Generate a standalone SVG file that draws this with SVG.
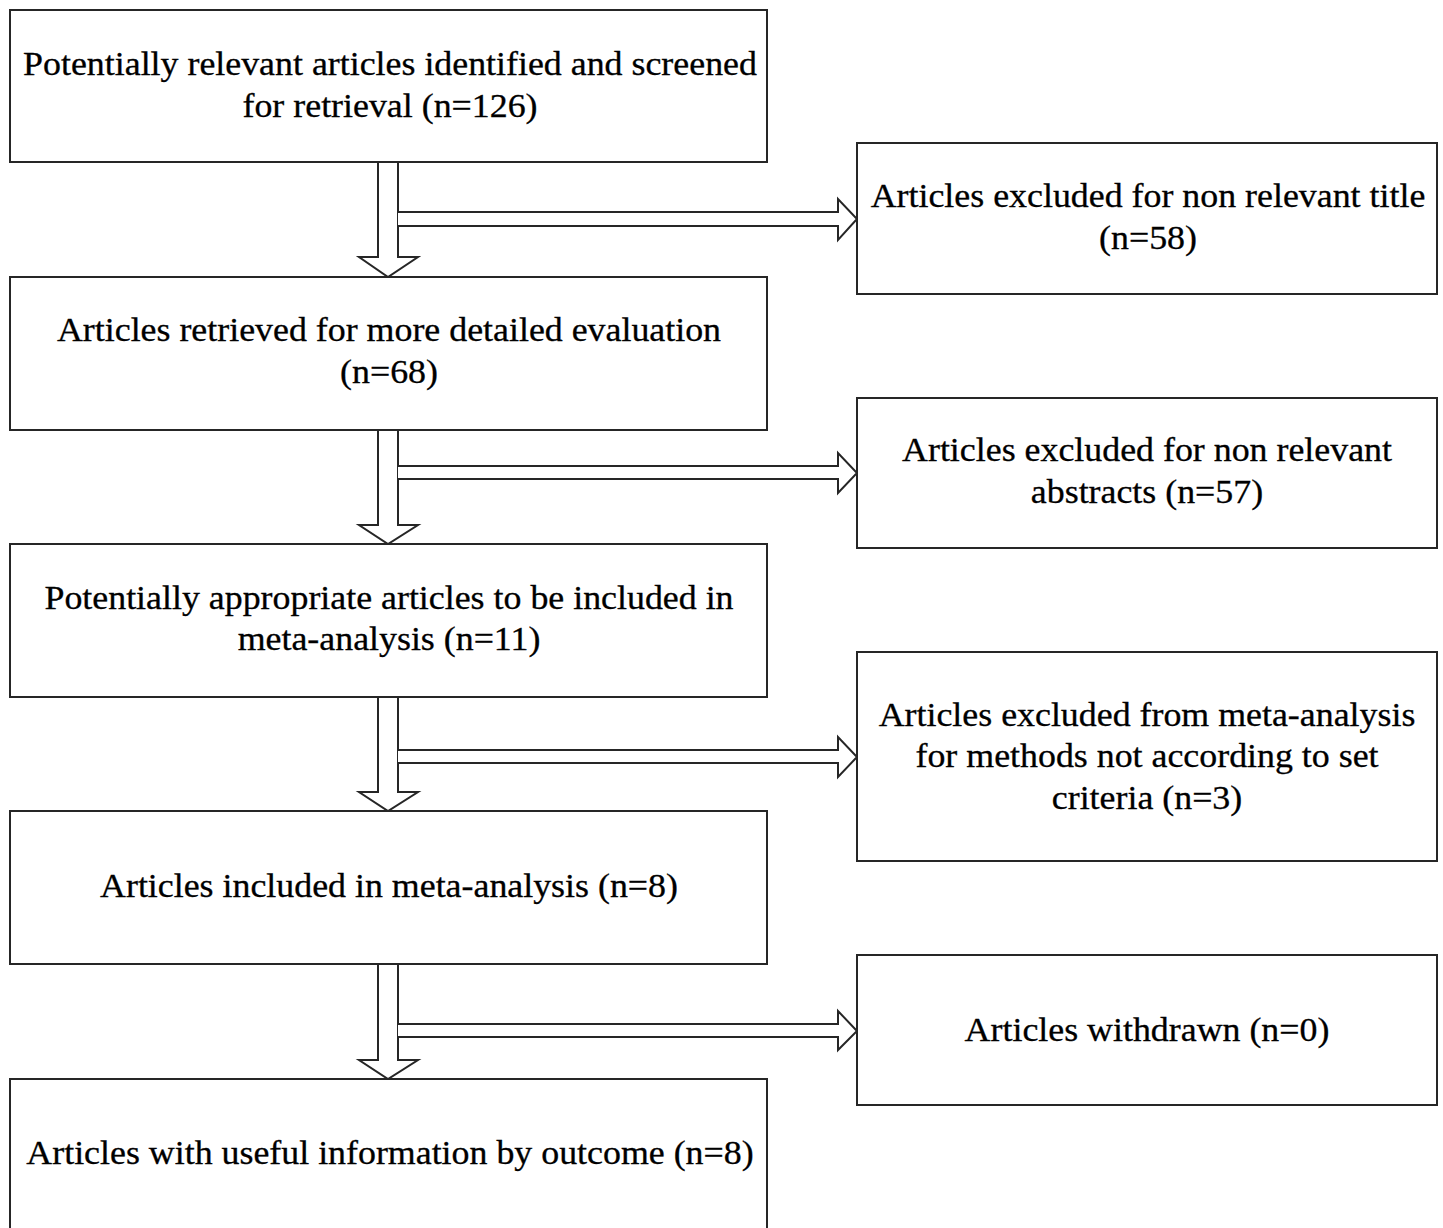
<svg xmlns="http://www.w3.org/2000/svg" width="1443" height="1228" viewBox="0 0 1443 1228">
<style>
.box{fill:#fff;stroke:#262626;stroke-width:2}
.arr{fill:#fff;stroke:#262626;stroke-width:2;stroke-linejoin:miter}
text{font-family:"Liberation Serif","Times New Roman",serif;font-size:33px;fill:#000;stroke:#000;stroke-width:0.3;text-anchor:middle}
</style>
<rect width="1443" height="1228" fill="#fff"/>
<g id="connectors">
<path class="arr" d="M378,162 V257 H359 L388,277 L418,257 H398 V162"/>
<path class="arr" d="M398,212 H838 V199 L857,219 L838,240 V226 H398"/>
<path class="arr" d="M378,430 V525 H359 L388,544 L418,525 H398 V430"/>
<path class="arr" d="M398,466 H838 V453 L857,473 L838,493 V479 H398"/>
<path class="arr" d="M378,697 V792 H359 L388,811 L418,792 H398 V697"/>
<path class="arr" d="M398,750 H838 V737 L857,757 L838,777 V763 H398"/>
<path class="arr" d="M378,964 V1060 H359 L388,1079 L418,1060 H398 V964"/>
<path class="arr" d="M398,1024 H838 V1011 L857,1031 L838,1050 V1037 H398"/>
</g>
<g id="n1"><rect class="box" x="10" y="10" width="757" height="152"/>
<g transform="translate(390,0) scale(1.087,1)">
<text x="0" y="75">Potentially relevant articles identified and screened</text>
<text x="0" y="117">for retrieval (n=126)</text></g></g>
<g id="n2"><rect class="box" x="10" y="277" width="757" height="153"/>
<g transform="translate(389,0) scale(1.087,1)">
<text x="0" y="341">Articles retrieved for more detailed evaluation</text>
<text x="0" y="383">(n=68)</text></g></g>
<g id="n3"><rect class="box" x="10" y="544" width="757" height="153"/>
<g transform="translate(389,0) scale(1.087,1)">
<text x="0" y="609">Potentially appropriate articles to be included in</text>
<text x="0" y="650">meta-analysis (n=11)</text></g></g>
<g id="n4"><rect class="box" x="10" y="811" width="757" height="153"/>
<g transform="translate(389,0) scale(1.087,1)">
<text x="0" y="897">Articles included in meta-analysis (n=8)</text></g></g>
<g id="n5"><rect class="box" x="10" y="1079" width="757" height="160"/>
<g transform="translate(390,0) scale(1.087,1)">
<text x="0" y="1164">Articles with useful information by outcome (n=8)</text></g></g>
<g id="r1"><rect class="box" x="857" y="143" width="580" height="151"/>
<g transform="translate(1148,0) scale(1.087,1)">
<text x="0" y="207">Articles excluded for non relevant title</text>
<text x="0" y="249">(n=58)</text></g></g>
<g id="r2"><rect class="box" x="857" y="398" width="580" height="150"/>
<g transform="translate(1147,0) scale(1.087,1)">
<text x="0" y="461">Articles excluded for non relevant</text>
<text x="0" y="503">abstracts (n=57)</text></g></g>
<g id="r3"><rect class="box" x="857" y="652" width="580" height="209"/>
<g transform="translate(1147,0) scale(1.087,1)">
<text x="0" y="726">Articles excluded from meta-analysis</text>
<text x="0" y="767">for methods not according to set</text>
<text x="0" y="809">criteria (n=3)</text></g></g>
<g id="r4"><rect class="box" x="857" y="955" width="580" height="150"/>
<g transform="translate(1147,0) scale(1.087,1)">
<text x="0" y="1041">Articles withdrawn (n=0)</text></g></g>
</svg>
